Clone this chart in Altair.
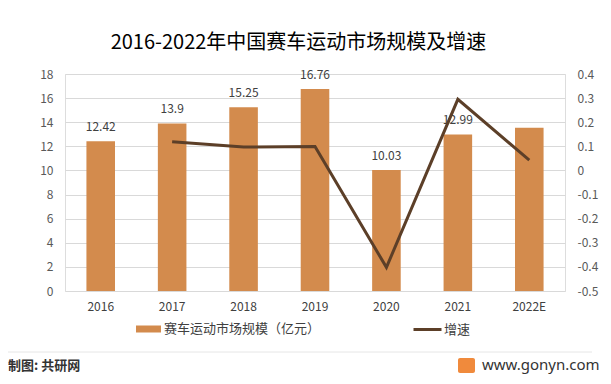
import altair as alt
import pandas as pd

years = ["2016", "2017", "2018", "2019", "2020", "2021", "2022E"]
market = [12.42, 13.9, 15.25, 16.76, 10.03, 12.99, 13.55]
bar_labels = ["12.42", "13.9", "15.25", "16.76", "10.03", "12.99", ""]
growth_years = ["2017", "2018", "2019", "2020", "2021", "2022E"]
growth = [0.119, 0.097, 0.099, -0.402, 0.295, 0.043]
left_ticks = [0, 2, 4, 6, 8, 10, 12, 14, 16, 18]
right_ticks = [-0.5, -0.4, -0.3, -0.2, -0.1, 0, 0.1, 0.2, 0.3, 0.4]

title_text = "2016-2022年中国赛车运动市场规模及增速"
bar_name = "赛车运动市场规模（亿元）"
line_name = "增速"
source_text = "制图: 共研网"
site_text = "www.gonyn.com"

BAR = "#D38B4D"
LINE = "#5C3F28"
FONT = "Noto Sans CJK SC"
TXT = "#404040"

bars_df = pd.DataFrame({"year": years, "market": market, "label": bar_labels, "s": bar_name})
line_df = pd.DataFrame({"year": growth_years, "growth": growth, "s": line_name})

xenc = alt.X(
    "year:N", sort=years,
    scale=alt.Scale(paddingInner=0.6, paddingOuter=0.3),
    axis=alt.Axis(title=None, labelAngle=0, ticks=False, domain=False, grid=False,
                  labelPadding=10, labelFontSize=12, labelColor=TXT, labelFont=FONT),
)
yenc = alt.Y(
    "market:Q",
    scale=alt.Scale(domain=[0, 18], nice=False),
    axis=alt.Axis(title=None, values=left_ticks, ticks=False, domain=False,
                  labelPadding=12, labelFontSize=12, labelColor="#595959", labelFont=FONT,
                  gridColor="#D9D9D9", gridWidth=1),
)

bars = alt.Chart(bars_df).mark_bar().encode(
    x=xenc, y=yenc,
    fill=alt.Fill("s:N", scale=alt.Scale(domain=[bar_name], range=[BAR]),
                  legend=alt.Legend(orient="none", legendX=71, legendY=242.5, title=None,
                                    symbolType="M-1,-0.28L1,-0.28L1,0.28L-1,0.28Z",
                                    symbolSize=625, symbolStrokeWidth=0, padding=0,
                                    labelOffset=3, labelFontSize=13, labelColor=TXT,
                                    labelFont=FONT)),
)
labels = alt.Chart(bars_df).mark_text(
    baseline="middle", dy=-14, fontSize=12, color=TXT, font=FONT
).encode(x=xenc, y=yenc, text="label:N")

left = alt.layer(bars, labels)

line = alt.Chart(line_df).mark_line(strokeWidth=3).encode(
    x=xenc,
    y=alt.Y("growth:Q", scale=alt.Scale(domain=[-0.5, 0.4], nice=False),
            axis=alt.Axis(title=None, orient="right", values=right_ticks, ticks=False,
                          domain=False, grid=False, labelPadding=12, labelFontSize=12,
                          labelColor="#595959", labelFont=FONT, labelAlign="left",
                          labelExpr="toString(round(datum.value*10)/10)")),
    stroke=alt.Stroke("s:N", scale=alt.Scale(domain=[line_name], range=[LINE]),
                      legend=alt.Legend(orient="none", legendX=347, legendY=240, title=None,
                                        symbolType="stroke", symbolSize=784,
                                        symbolStrokeWidth=3, padding=0, labelOffset=1,
                                        labelFontSize=13, labelColor=TXT, labelFont=FONT)),
)

main = alt.layer(left, line).resolve_scale(y="independent")

one = pd.DataFrame({"t": [title_text]})
title = alt.Chart(one).mark_text(
    fontSize=20, font=FONT, color="#000000", align="center", baseline="middle"
).encode(text="t:N", x=alt.value(233.5), y=alt.value(-31))

src_df = pd.DataFrame({"t": [source_text]})
source = alt.Chart(src_df).mark_text(
    fontSize=13, font=FONT, fontWeight="bold", color="#333333", align="left", baseline="middle"
).encode(text="t:N", x=alt.value(-57), y=alt.value(292))

site_df = pd.DataFrame({"t": [site_text]})
site = alt.Chart(site_df).mark_text(
    fontSize=15, font="Noto Sans", color="#333333", align="left", baseline="middle"
).encode(text="t:N", x=alt.value(417), y=alt.value(291))

logo = alt.Chart(site_df).mark_rect(color="#F08A3C", cornerRadius=2).encode(
    x=alt.value(393), x2=alt.value(410), y=alt.value(284), y2=alt.value(299)
)

sep = alt.Chart(site_df).mark_rule(color="#E6E6E6", strokeWidth=1).encode(
    x=alt.value(-57), x2=alt.value(527), y=alt.value(278)
)

chart = alt.layer(main, title, sep, source, logo, site).properties(
    width=500, height=217,
    padding={"left": 57, "top": 66, "right": 38, "bottom": 85},
    autosize=alt.AutoSizeParams(type="none"),
).configure_view(stroke=None).configure(background="white")

chart.save("out.html", embed_options={"renderer": "svg", "actions": False})
